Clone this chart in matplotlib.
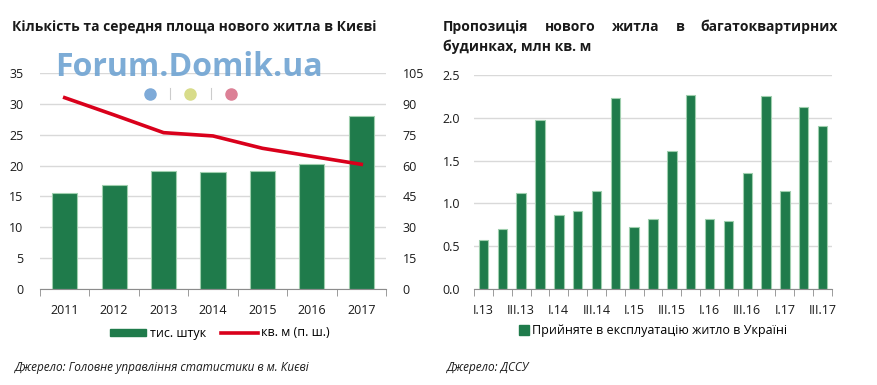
import matplotlib.pyplot as plt
import matplotlib.ticker as mticker
from matplotlib.lines import Line2D
from matplotlib.patches import Patch
import numpy as np

plt.rcParams['font.family'] = ['Open Sans', 'DejaVu Sans']

# left chart data
years = ['2011', '2012', '2013', '2014', '2015', '2016', '2017']
units_k = [15.5, 16.9, 19.1, 19.0, 19.1, 20.2, 28.1]
avg_area = [93.0, 84.6, 76.0, 74.4, 68.4, 64.5, 60.6]

# right chart data
quarters = ['I.13', 'II.13', 'III.13', 'IV.13', 'I.14', 'II.14', 'III.14', 'IV.14',
            'I.15', 'II.15', 'III.15', 'IV.15', 'I.16', 'II.16', 'III.16', 'IV.16',
            'I.17', 'II.17', 'III.17']
supply = [0.57, 0.70, 1.12, 1.97, 0.87, 0.91, 1.14, 2.23, 0.72, 0.82, 1.61, 2.27,
          0.82, 0.80, 1.36, 2.25, 1.14, 2.13, 1.90]

green = '#1f7b4b'
edge = '#9fcfae'
red = '#d9001b'
grid_c = '#d9d9d9'
txt = '#1a1a1a'
W, H = 877, 385

fig = plt.figure(figsize=(W / 100, H / 100), dpi=100)


def style(ax):
    for s in ['top', 'left', 'right']:
        ax.spines[s].set_visible(False)
    ax.spines['bottom'].set_color('#8c8c8c')
    ax.grid(axis='y', color=grid_c, linewidth=1)
    ax.set_axisbelow(True)
    ax.tick_params(axis='y', length=0, labelsize=9, colors=txt, pad=12)


# ---------------- left chart
ax1 = fig.add_axes([40 / W, 1 - 289 / H, 346 / W, 216 / H])
x = np.arange(len(years))
ax1.bar(x, units_k, width=0.51, color=green, edgecolor=edge, linewidth=0.8, zorder=2)
ax1.set_xlim(-0.5, len(years) - 0.5)
ax1.set_ylim(0, 35)
ax1.set_yticks(np.arange(0, 36, 5))
style(ax1)
ax1.set_xticks(x)
ax1.set_xticklabels(years)
ax1.set_xticks(np.arange(-0.5, len(years)), minor=True)
ax1.tick_params(axis='x', which='major', length=0, labelsize=9, colors=txt, pad=11)
ax1.tick_params(axis='x', which='minor', length=5, color='#8c8c8c')

ax2 = ax1.twinx()
ax2.plot(x, avg_area, color=red, linewidth=2.6, zorder=3)
ax2.set_ylim(0, 105)
ax2.set_yticks(np.arange(0, 106, 15))
for s in ['top', 'left', 'right', 'bottom']:
    ax2.spines[s].set_visible(False)
ax2.tick_params(axis='y', length=0, labelsize=9, colors=txt, pad=12)

fig.text(12 / W, 1 - 27 / H, 'Кількість та середня площа нового житла в Києві',
         fontsize=10, fontweight='bold', color=txt, va='center')

# watermark
fig.text(189 / W, 1 - 68 / H, 'Forum.Domik.ua', fontsize=23, fontweight='bold',
         color='#6fa3d2', alpha=0.9, ha='center', va='center', zorder=10)
for cx, c in [(150, '#7eaad8'), (190, '#d8dc8a'), (231, '#dc8096')]:
    fig.add_artist(Line2D([cx / W], [1 - 94 / H], marker='o', markersize=8,
                          color=c, linestyle='none', transform=fig.transFigure))
for cx in [170, 211]:
    fig.add_artist(Line2D([cx / W, cx / W], [1 - 88 / H, 1 - 99 / H], color='#cccccc',
                          linewidth=0.8, transform=fig.transFigure))

fig.legend(handles=[Patch(color=green, label='тис. штук'),
                    Line2D([], [], color=red, linewidth=2.6, label='кв. м (п. ш.)')],
           loc='center', bbox_to_anchor=(220 / W, 1 - 333 / H), ncol=2, frameon=False,
           fontsize=9, handlelength=2.9, handleheight=0.5, columnspacing=1.2,
           handletextpad=0.3)

fig.text(15 / W, 1 - 367 / H, 'Джерело: Головне управління статистики в м. Києві',
         fontsize=8.5, style='italic', color=txt, va='center')

# ---------------- right chart
ax3 = fig.add_axes([474 / W, 1 - 289 / H, 358 / W, 214 / H])
q = np.arange(len(quarters))
ax3.bar(q, supply, width=0.5, color=green, edgecolor=edge, linewidth=0.8, zorder=2)
ax3.set_xlim(-0.5, len(quarters) - 0.5)
ax3.set_ylim(0, 2.5)
ax3.set_yticks(np.arange(0, 2.51, 0.5))
ax3.yaxis.set_major_formatter(mticker.FormatStrFormatter('%.1f'))
style(ax3)
ax3.tick_params(axis='y', pad=10)
ax3.set_xticks(q[::2])
ax3.set_xticklabels(quarters[::2])
ax3.set_xticks(np.arange(-0.5, len(quarters)), minor=True)
ax3.tick_params(axis='x', which='major', length=0, labelsize=9, colors=txt, pad=11)
ax3.tick_params(axis='x', which='minor', length=5, color='#8c8c8c')

ax3.legend(handles=[Patch(color=green, label='Прийняте в експлуатацію житло в Україні')],
           loc='center', bbox_to_anchor=(0.5, -0.195), frameon=False, fontsize=9,
           handlelength=0.8, handleheight=0.8, handletextpad=0.2)

# justified two-line title
words = ['Пропозиція', 'нового', 'житла', 'в', 'багатоквартирних']
tx = [fig.text(0, 1 - 27 / H, w, fontsize=10, fontweight='bold', color=txt, va='center')
      for w in words]
fig.canvas.draw()
r = fig.canvas.get_renderer()
widths = [t.get_window_extent(r).width for t in tx]
x0, x1 = 443, 838
gap = (x1 - x0 - sum(widths)) / (len(words) - 1)
pos = x0
for t, w in zip(tx, widths):
    t.set_x(pos / W)
    pos += w + gap
fig.text(x0 / W, 1 - 47 / H, 'будинках, млн кв. м', fontsize=10, fontweight='bold',
         color=txt, va='center')

fig.text(447 / W, 1 - 367 / H, 'Джерело: ДССУ', fontsize=8.5, style='italic',
         color=txt, va='center')

fig.savefig('out.png', dpi=100)
